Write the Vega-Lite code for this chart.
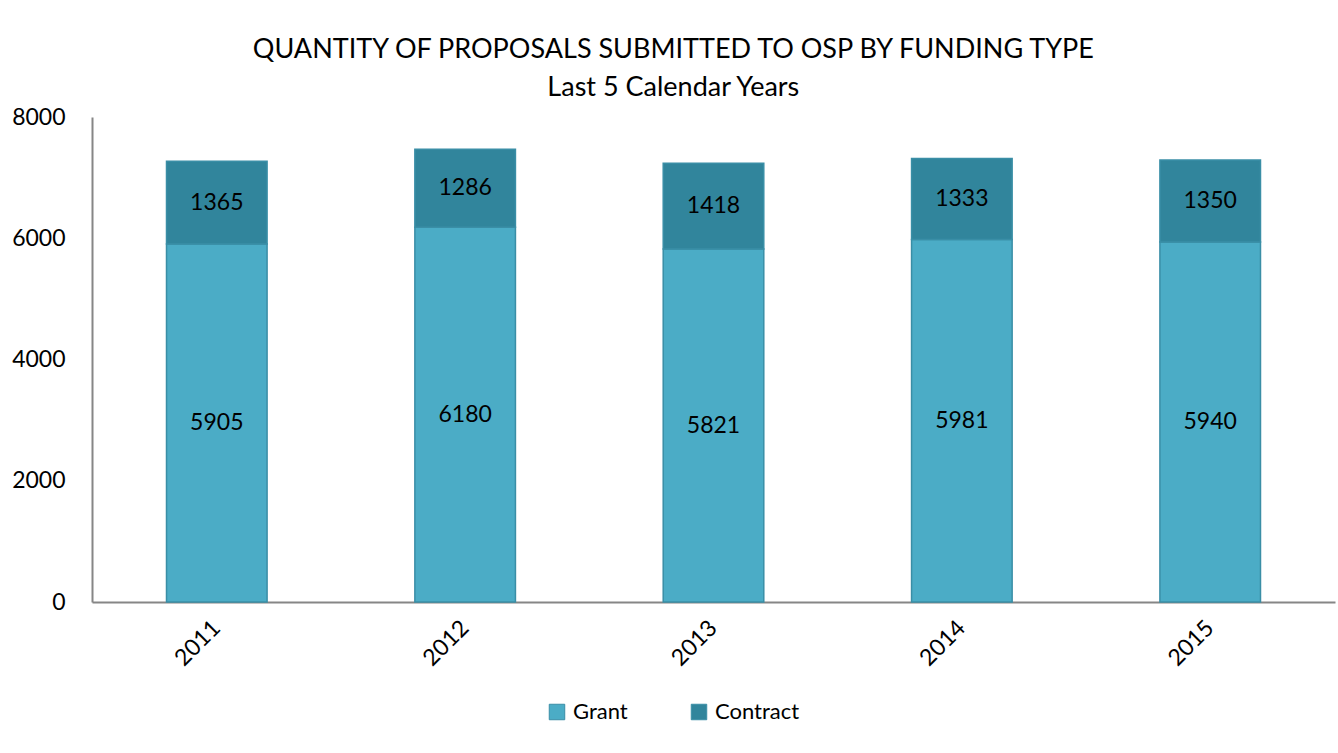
{
  "$schema": "https://vega.github.io/schema/vega-lite/v6.json",
  "autosize": {"type": "none"},
  "padding": {"left": 92, "top": 117, "right": 3, "bottom": 151},
  "width": 1243,
  "height": 485,
  "background": "white",
  "title": {
    "text": ["QUANTITY OF PROPOSALS SUBMITTED TO OSP BY FUNDING TYPE", "Last 5 Calendar Years"],
    "font": "Lato",
    "fontSize": 27,
    "fontWeight": "normal",
    "color": "black",
    "lineHeight": 38,
    "anchor": "middle",
    "frame": "bounds",
    "offset": 4
  },
  "config": {
    "view": {"stroke": null},
    "font": "Lato"
  },
  "data": {
    "values": [
      {"year": "2011", "type": "Grant", "value": 5905},
      {"year": "2011", "type": "Contract", "value": 1365},
      {"year": "2012", "type": "Grant", "value": 6180},
      {"year": "2012", "type": "Contract", "value": 1286},
      {"year": "2013", "type": "Grant", "value": 5821},
      {"year": "2013", "type": "Contract", "value": 1418},
      {"year": "2014", "type": "Grant", "value": 5981},
      {"year": "2014", "type": "Contract", "value": 1333},
      {"year": "2015", "type": "Grant", "value": 5940},
      {"year": "2015", "type": "Contract", "value": 1350}
    ]
  },
  "transform": [
    {"stack": "value", "groupby": ["year"], "sort": [{"field": "type", "order": "descending"}], "as": ["v0", "v1"]},
    {"calculate": "(datum.v0 + datum.v1) / 2", "as": "mid"}
  ],
  "encoding": {
    "x": {
      "field": "year", "type": "nominal", "title": null,
      "scale": {"paddingInner": 0.595, "paddingOuter": 0.3},
      "axis": {
        "labelAngle": -45, "labelAlign": "right", "labelBaseline": "middle",
        "labelFontSize": 23, "labelColor": "black", "labelPadding": 22,
        "ticks": false, "domainColor": "#868686", "domainWidth": 2
      }
    }
  },
  "layer": [
    {
      "mark": {"type": "bar", "stroke": "#3a8ea6", "strokeWidth": 1.5},
      "encoding": {
        "y": {
          "field": "v0", "type": "quantitative", "title": null,
          "scale": {"domain": [0, 8000]},
          "axis": {
            "values": [0, 2000, 4000, 6000, 8000], "format": "d",
            "labelFontSize": 23, "labelColor": "black", "labelPadding": 27,
            "ticks": false, "grid": false, "domainColor": "#868686", "domainWidth": 2
          }
        },
        "y2": {"field": "v1"},
        "color": {
          "field": "type", "type": "nominal",
          "scale": {"domain": ["Grant", "Contract"], "range": ["#4BACC6", "#31859C"]},
          "legend": {
            "title": null, "orient": "none", "direction": "horizontal",
            "legendX": 454, "legendY": 584,
            "symbolType": "square", "symbolSize": 240, "symbolStrokeColor": "#3a8ea6",
            "symbolStrokeWidth": 1, "symbolOpacity": 1,
            "labelFontSize": 22, "labelColor": "black", "labelOffset": 5,
            "columnPadding": 60
          }
        }
      }
    },
    {
      "mark": {"type": "text", "fontSize": 23, "color": "black"},
      "encoding": {
        "y": {"field": "mid", "type": "quantitative"},
        "text": {"field": "value", "type": "quantitative"}
      }
    }
  ]
}
